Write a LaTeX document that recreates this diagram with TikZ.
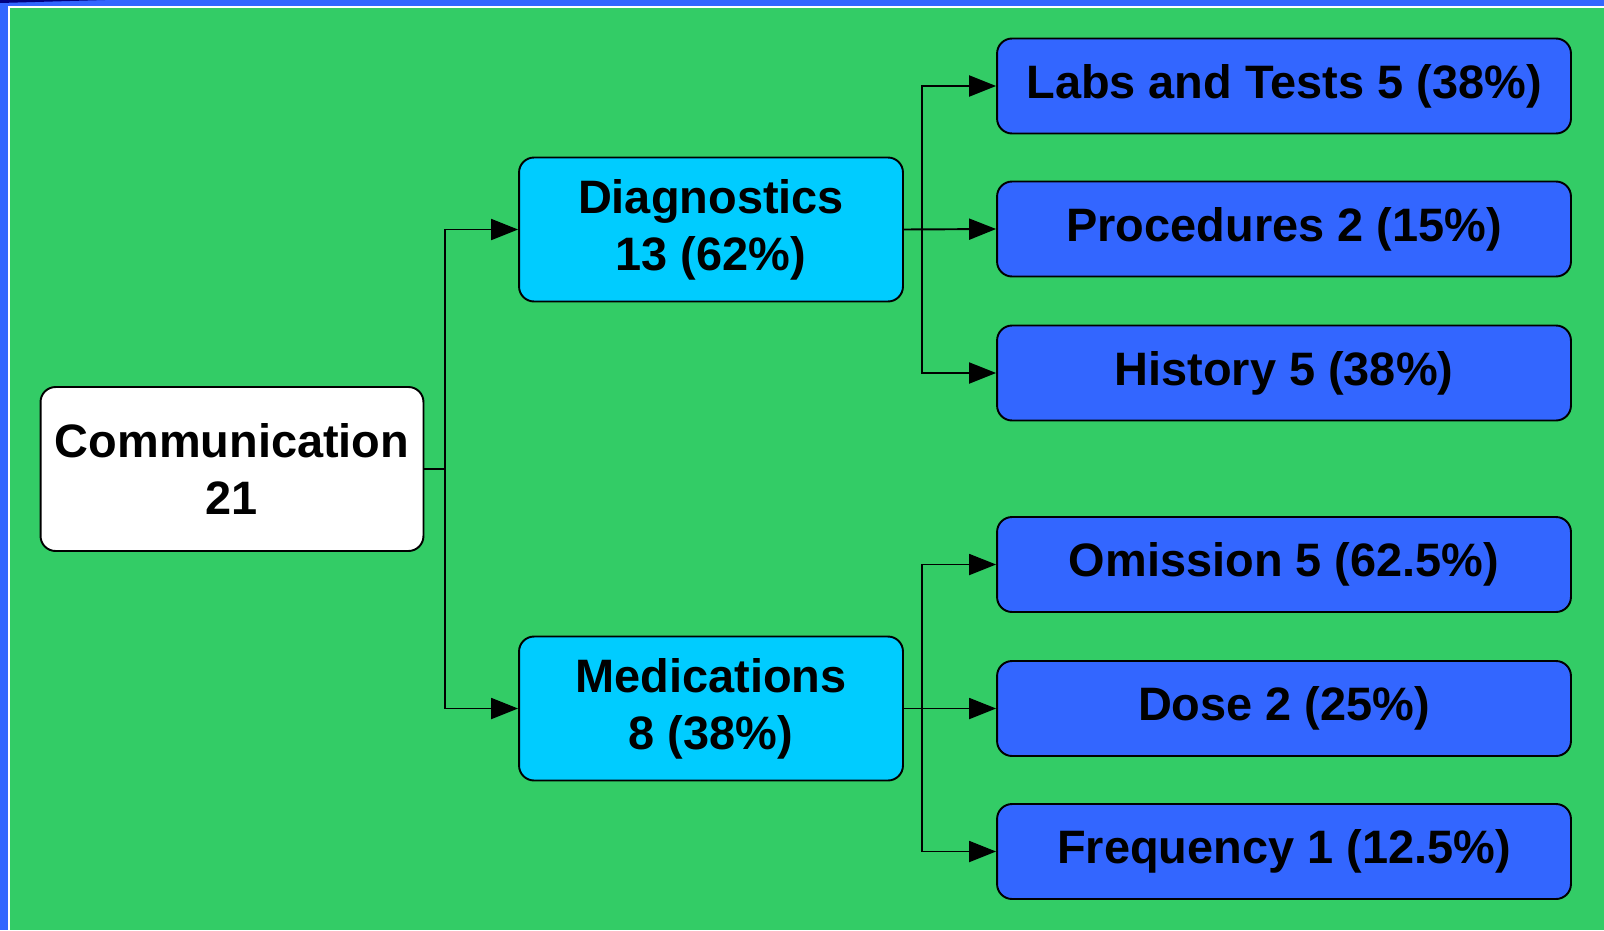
\documentclass[tikz,border=0pt]{standalone}
\usepackage{fontspec}
\setmainfont{Liberation Sans}
\usepackage{tikz}
\usetikzlibrary{arrows.meta}
\definecolor{bggreen}{HTML}{33CC66}
\definecolor{frameblue}{HTML}{3366FF}
\definecolor{boxcyan}{HTML}{00CCFF}
\definecolor{darknavy}{HTML}{000080}

\begin{document}
\begin{tikzpicture}[x = 0.02cm, y = -0.02cm,
	box/.style = {draw, line width = 1.1pt, rounded corners = 0.3cm, align = center,
		font = \fontsize{26.7}{32.4}\selectfont\bfseries, inner sep = 0pt},
	topbox/.style = {box, fill = white, minimum width = 7.66cm, minimum height = 3.28cm},
	midbox/.style = {box, fill = boxcyan, minimum width = 7.68cm, minimum height = 2.88cm},
	leafbox/.style = {box, fill = frameblue, minimum width = 11.48cm, minimum height = 1.9cm},
	link/.style = {line width = 1.1pt, -{Triangle[length = 0.54cm, width = 0.42cm]}}]
	\useasboundingbox (0,0) rectangle (1604,930);
	\fill [frameblue] (0,0) rectangle (1604,930);
	\fill [darknavy] (0,0) -- (105,0) -- (0,3) -- cycle;
	\draw [white, line width = 0.6pt] (9,930) -- (9,7) -- (1604,7);
	\fill [bggreen] (10,8) rectangle (1604,930);
	% boxes
	\node [topbox] (comm) at (232,469) {Communication\\21};
	\node [midbox] (diag) at (711,229.5) {Diagnostics\\13 (62\%)};
	\node [midbox] (meds) at (711,708.5) {Medications\\8 (38\%)};
	\node [leafbox] (labs) at (1284,86) {Labs and Tests 5 (38\%)};
	\node [leafbox] (proc) at (1284,229) {Procedures 2 (15\%)};
	\node [leafbox] (hist) at (1284,373) {History 5 (38\%)};
	\node [leafbox] (omis) at (1284,564.5) {Omission 5 (62.5\%)};
	\node [leafbox] (dose) at (1284,708.5) {Dose 2 (25\%)};
	\node [leafbox] (freq) at (1284,851.5) {Frequency 1 (12.5\%)};
	% connectors
	\coordinate (j1) at (445,469);
	\coordinate (j2) at (922,229.5);
	\coordinate (j3) at (922,708.5);
	\draw [link] (comm.east) -- (j1) |- (diag.west);
	\draw [link] (j1) |- (meds.west);
	\draw [link] (diag.east) -- (proc.west);
	\draw [link] (j2) |- (labs.west);
	\draw [link] (j2) |- (hist.west);
	\draw [link] (meds.east) -- (dose.west);
	\draw [link] (j3) |- (omis.west);
	\draw [link] (j3) |- (freq.west);
\end{tikzpicture}
\end{document}
